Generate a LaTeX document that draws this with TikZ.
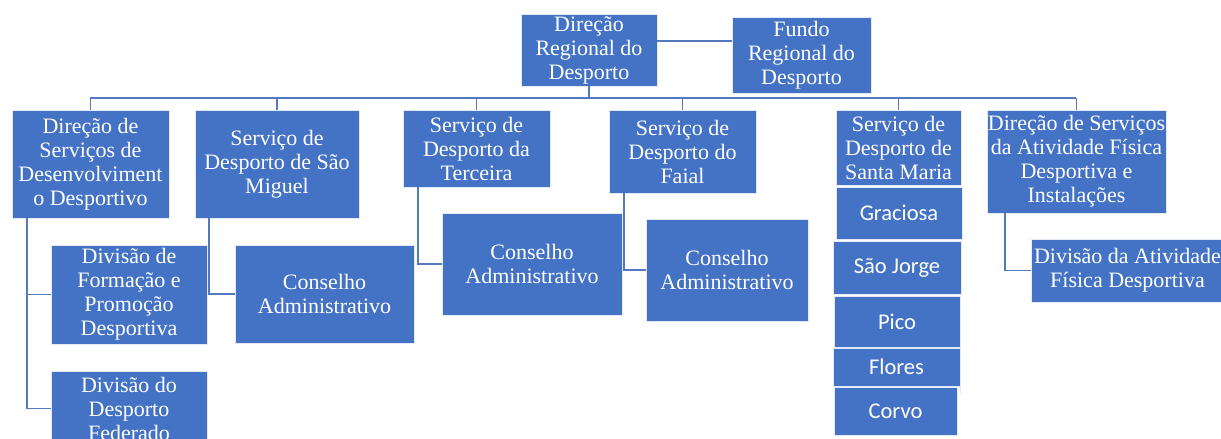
\documentclass[tikz,border=0pt]{standalone}
\usepackage{fontspec}
\setmainfont{Liberation Serif}
\newfontfamily\calfont{Carlito}
\definecolor{boxblue}{HTML}{4472C4}
\definecolor{linkblue}{HTML}{5579BE}
\tikzset{
  x=1pt, y=-1pt,
  box/.style={fill=boxblue, draw=white!85!boxblue, line width=0.8pt, text=white,
    align=center, inner sep=0pt, font=\fontsize{22}{24}\selectfont},
  isle/.style={box, font=\calfont\fontsize{22.5}{24}\selectfont},
  link/.style={draw=linkblue, line width=1.8pt}
}
\begin{document}
\begin{tikzpicture}
\useasboundingbox (0,0) rectangle (1221,439);
% top
\node[box, minimum width=136, minimum height=72] (D) at (589,50) {Direção\\Regional do\\Desporto};
\node[box, minimum width=139, minimum height=76] (Fundo) at (801.5,55) {Fundo\\Regional do\\Desporto};
% level 2
\node[box, minimum width=157, minimum height=108] (A) at (90.5,164) {Direção de\\Serviços de\\Desenvolviment\\o Desportivo};
\node[box, minimum width=164, minimum height=108] (B) at (277,164) {Serviço de\\Desporto de São\\Miguel};
\node[box, minimum width=147, minimum height=77] (C) at (476.5,148.5) {Serviço de\\Desporto da\\Terceira};
\node[box, minimum width=147, minimum height=83] (E) at (682.5,151.5) {Serviço de\\Desporto do\\Faial};
\node[box, minimum width=125, minimum height=75] (F) at (898.5,147.5) {Serviço de\\Desporto de\\Santa Maria};
\node[box, minimum width=179, minimum height=103] (G) at (1076.5,161.5) {Direção de Serviços\\da Atividade Física\\Desportiva e\\Instalações};
% level 3
\node[box, minimum width=156, minimum height=99] (A1) at (129,294.5) {Divisão de\\Formação e\\Promoção\\Desportiva};
\node[box, minimum width=156, minimum height=75] (A2) at (129,408.5) {Divisão do\\Desporto\\Federado};
\node[box, minimum width=179, minimum height=98] (B1) at (324.5,294) {Conselho\\Administrativo};
\node[box, minimum width=180, minimum height=102] (C1) at (532,264) {Conselho\\Administrativo};
\node[box, minimum width=162, minimum height=102] (E1) at (727,270) {Conselho\\Administrativo};
\node[box, minimum width=193, minimum height=63] (G1) at (1127.5,270.5) {Divisão da Atividade\\Física Desportiva};
% Santa Maria column
\node[isle, minimum width=126, minimum height=52] (Graciosa) at (899,213) {Graciosa};
\node[isle, minimum width=128, minimum height=53] (Jorge) at (897,267.5) {São Jorge};
\node[isle, minimum width=126, minimum height=51] (Pico) at (897,321.5) {Pico};
\node[isle, minimum width=127, minimum height=38] (Flores) at (896.5,367) {Flores};
\node[isle, minimum width=123, minimum height=48] (Corvo) at (895.5,411) {Corvo};
\draw[draw=white!85!boxblue, line width=0.8pt] (Flores.south east) -- ++(0,9);
% connectors
\coordinate (busL) at (90,98);
\coordinate (busR) at (1076,98);
\coordinate (dfy) at (0,41);
\draw[link] (busL) -- (busR);
\draw[link] (D.south) -- (D.south |- busL);
\draw[link] (D.east |- dfy) -- (Fundo.west |- dfy);
\foreach \n in {A,B,C,E,F,G} { \draw[link] (\n.north) -- (\n.north |- busL); }
\coordinate (ax) at (27,0);
\coordinate (bx) at (209,0);
\coordinate (cx) at (418,0);
\coordinate (ex) at (624,0);
\coordinate (gx) at (1005,0);
\draw[link] (A.south -| ax) |- (A2.west);
\draw[link] (ax |- A1.west) -- (A1.west);
\draw[link] (B.south -| bx) |- (B1.west);
\draw[link] (C.south -| cx) |- (C1.west);
\draw[link] (E.south -| ex) |- (E1.west);
\draw[link] (G.south -| gx) |- (G1.west);
\end{tikzpicture}
\end{document}
